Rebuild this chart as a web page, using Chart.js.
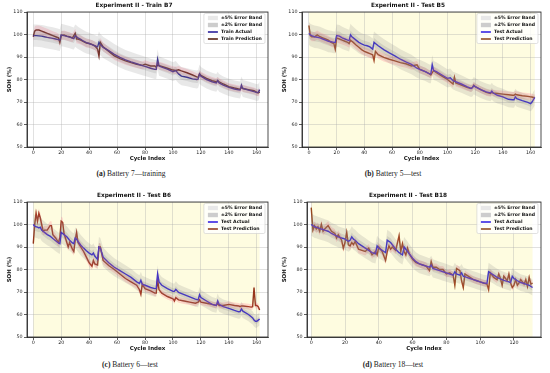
<!DOCTYPE html>
<html><head><meta charset="utf-8">
<script src="https://cdn.jsdelivr.net/npm/chart.js@4.4.0/dist/chart.umd.min.js"></script>
<style>
body{margin:0;background:#fff;width:550px;height:373px;overflow:hidden;position:relative;}
canvas{position:absolute;}
.cap{position:absolute;font-family:"Liberation Serif","DejaVu Serif",serif;font-size:7.5px;color:#222;white-space:nowrap;transform:translateX(-50%);line-height:10px;}
</style></head><body>
<canvas id="ca" width="275" height="165" style="left:0;top:0"></canvas>
<canvas id="cb" width="275" height="165" style="left:275px;top:0"></canvas>
<canvas id="cc" width="275" height="165" style="left:0;top:190px"></canvas>
<canvas id="cd" width="275" height="165" style="left:275px;top:190px"></canvas>
<div class="cap" style="left:131px;top:169px"><b>(a)</b> Battery 7—training</div>
<div class="cap" style="left:393px;top:169px"><b>(b)</b> Battery 5—test</div>
<div class="cap" style="left:130px;top:360px"><b>(c)</b> Battery 6—test</div>
<div class="cap" style="left:393px;top:360px"><b>(d)</b> Battery 18—test</div>
<script>
// ---- data ----
const titles = ["Experiment II - Train B7","Experiment II - Test B5","Experiment II - Test B6","Experiment II - Test B18"];
const yTicks = [50,60,70,80,90,100,110];
const xTicksABC = [0,20,40,60,80,100,120,140,160];
const xTicksD = [0,20,40,60,80,100,120];

const cyclesA = [0,1,2,4,6,8,10,12,14,16,18,19,20,22,24,26,28,29,30,31,32,34,36,38,40,42,44,46,47,48,50,54,58,62,66,70,74,78,80,84,87,88,89,90,92,96,100,102,104,106,110,114,117,118,119,120,124,128,131,132,133,136,140,144,147,148,149,150,154,158,160,161,162];
const actualA = [99.5,99.5,99.5,99.4,99.3,99,98.7,98.5,98.3,98,97.7,97.5,99.8,99.5,99.2,98.8,98.4,98.2,99.5,99,98.5,97.8,97,96.4,96,95.5,95,94.5,96.5,95.5,94.3,92.8,91.2,89.8,88.7,87.8,87,86.2,85.8,85,84.5,84.5,89,86,85.5,84.6,83.5,84,82.5,81.5,81,80.3,80,80.2,82.5,81.5,80,79,78.5,79.5,78.5,77.5,76.5,75.8,75.4,75.3,77.5,76,75.3,74.6,74.2,74.3,75.5];
const predA = [99,101.5,102,102,101.5,101,100.5,100,99.5,99,98.5,96.5,99.5,99.8,99.3,99,98.5,99.5,100.5,98,98,97.5,96.8,96.2,96,95.6,95,93.5,90.5,96.5,94.5,92.5,90.5,89.3,88.3,87.5,86.8,86.3,86.8,86,86,85.5,86.5,86.2,85.8,85,84.2,84,84.3,83.8,83,82,81.2,81,82.5,81.8,80.5,79.5,79,79.5,79,78,76.8,76.2,75.8,75.7,76.5,76,75.5,75,74.3,74,74.5];

const cyclesB = [0,1,2,4,6,8,10,12,14,16,18,19,20,22,24,26,28,29,30,31,32,34,36,38,40,42,44,46,47,48,50,54,58,62,66,70,74,78,80,84,87,88,89,90,92,96,100,102,104,105,106,110,114,117,118,119,120,124,128,131,132,133,136,140,144,147,148,149,150,154,158,160,161,162,163];
const actualB = [100.5,99.8,99.5,99,98.8,98.5,98,97.5,97,96.8,96.5,96.5,99.5,99.3,98.5,98,97.5,97.3,99.8,99,98.5,97.5,96.5,95.8,95.3,95,94.5,93.5,96.5,96,95,93.3,91.8,90.5,89,87.8,86.7,85,84.5,83.5,82.5,82.5,86.5,84,83.5,82,80.5,80.8,79.5,79.3,79,78,76.8,76,76.3,77.3,76.8,75.5,74.5,74,74.8,74,73,72.3,71.2,71,71,72.3,71.5,70.6,69.8,69.3,70,71,72];
const predB = [104,99.5,99,99,99.8,99,98.5,98,97.5,96.5,96,93.5,98.5,98,97.5,97,96.5,96,97.5,97,96.5,95.3,94.3,93.3,92.5,92,91.5,91,88.5,92.5,91,89.8,89,88.3,87.5,87,86,86.5,84.5,83.5,82.5,82,83,84,83,81.5,80,79,78,81,78.5,77.5,76.5,76,76.5,77.5,76.8,75.5,74.3,73.8,74.3,74,73.8,73.5,73.2,73,73,73.5,73.2,72.8,72.5,72.3,72.2,72,72];

const cyclesC = [0,1,2,3,4,5,6,7,8,10,12,13,14,16,18,19,20,21,22,24,25,26,28,29,30,31,32,34,36,38,40,42,43,44,46,47,48,50,54,58,62,66,70,74,76,77,78,80,84,87,88,89,90,92,96,100,101,102,104,108,112,116,118,119,120,124,128,131,132,133,136,140,144,147,148,149,150,154,156,157,158,159,160,161,162];
const actualC = [100,99.3,99,98.8,98.5,98.8,97.5,97,96.5,95.5,94.8,94.3,93.8,92.8,91.8,91.5,96.5,96,95.5,94.5,93.8,93,91.8,91.5,94,93.5,92.5,90.8,89.5,88.3,87.3,86.5,87.3,86,84.5,90,89.5,85.5,83,81,79.5,78,76.5,74.5,73.8,75.2,73.5,73,72,71.5,71.5,78,74.5,73,71.5,70.3,70.3,71.2,69.8,68.8,67.8,66.8,66.5,68.8,67.5,66,64.5,64,66,64.5,63.5,62.7,61.8,61.2,61.3,62.5,61.5,60,59,58.5,57.5,57,57,57.5,58];
const predC = [91.5,100,105,101.5,105,103,100,97,97.5,97.5,99.5,99.5,95.5,94,92,94,101.5,101,96,92,90,92,89,88,93,96.5,92,90,88,85.5,83,81.5,84,82.5,82,90,90,84,81.8,80,78,76,74.5,73,71,69,73.5,71.5,70.5,69.5,69.5,75.5,71,69.5,68,67,66,67.5,66.5,66,65.5,65,65.5,66.5,65.5,65,64.5,64,65,64,64,64.5,64,63.8,63.5,63.8,63.8,63.5,63.3,63.5,72,64,64,63.5,62];

const cyclesD = [0,1,2,3,4,5,6,7,8,10,12,14,15,16,18,19,20,21,22,23,24,25,26,28,30,32,34,36,38,39,40,42,43,44,45,46,47,48,50,52,53,54,55,56,57,58,60,62,64,66,68,70,71,72,74,76,78,80,82,84,85,86,88,89,90,91,92,94,96,98,100,102,104,105,106,108,110,111,112,113,114,116,117,118,119,120,121,122,123,124,126,127,128,129,130,131];
const actualD = [100,99.5,99,98.8,98.5,98.3,98,97.8,97.5,97,96,95.3,95,94.5,94,93.8,93.5,93,92.5,93,94.5,93.5,93,91.5,90.5,89.5,88.5,87.5,87,90.5,89.5,88.5,88,87.5,93,92.5,92,91,89,87.5,87,86.5,90,89,88,87,85,83.5,82.5,82,81.5,81,82,80.5,80,79.5,79,78.5,78,77.5,79,78,77.5,78.5,77,76.8,76.5,76,75.5,75,74.5,74,73.8,79,78.5,77.5,76.5,76.2,75.8,75.5,75.2,74.7,74.5,74.2,77,76,75.5,75,74.6,74.2,73.8,73.5,73.3,73,72.5,72];
const predD = [107.5,97.5,99.5,98,99,97,100,97,98,99.5,97,96,94,95.5,93,89.5,92,96.5,91,90.5,92,91,92.5,89,88.5,88,89.5,86.5,88,86.5,90,88,86,84,88,90.5,89,90,88.5,95,88,91.5,88,86.5,89.5,87,84.5,83,82.5,82,81.5,79.5,83.5,81,81,80,80,78,78.5,77.5,73,80.5,79.5,75,72,78,77.5,76.5,75.5,75,74.5,74,73.5,71,78.5,76.5,75.5,78,76,73,77,75,78,74,72,73,75.5,73,74,75.5,73.5,75.5,72.5,76.5,73.5,74];

// ---- plugins ----
const FONT = '"DejaVu Sans", sans-serif';
const bgPlugin = {
  id: 'bgSpan',
  beforeDraw(chart, args, o) {
    if (!o || !o.color) return;
    const {ctx, chartArea, scales} = chart;
    const x0 = scales.x.getPixelForValue(o.from), x1 = scales.x.getPixelForValue(o.to);
    ctx.save(); ctx.fillStyle = o.color;
    ctx.fillRect(x0, chartArea.top, x1 - x0, chartArea.bottom - chartArea.top);
    ctx.restore();
  }
};
const framePlugin = {
  id: 'frame',
  afterDatasetsDraw(chart) {
    const {ctx, chartArea: a} = chart;
    ctx.save(); ctx.strokeStyle = '#222'; ctx.lineWidth = 0.8;
    ctx.strokeRect(a.left, a.top, a.right - a.left, a.bottom - a.top);
    ctx.restore();
  }
};
const legendPlugin = {
  id: 'boxLegend',
  afterDraw(chart, args, o) {
    const items = o.items; if (!items) return;
    const {ctx, chartArea} = chart;
    ctx.save();
    ctx.font = 'bold 4.6px ' + FONT;
    const tw = Math.max(...items.map(i => ctx.measureText(i.label).width));
    const rowH = 7, padX = 4, handle = 10, gap = 3;
    const w = padX + handle + gap + tw + 3;
    const h = items.length * rowH + 2;
    const x = chartArea.right - 3 - w, y = chartArea.top + 1.5;
    ctx.fillStyle = 'rgba(255,255,255,0.8)'; ctx.strokeStyle = '#cccccc'; ctx.lineWidth = 0.6;
    ctx.beginPath(); ctx.roundRect(x, y, w, h, 1.5); ctx.fill(); ctx.stroke();
    items.forEach((it, i) => {
      const cy = y + 1 + rowH * i + rowH / 2;
      if (it.type === 'patch') { ctx.fillStyle = it.color; ctx.fillRect(x + padX, cy - 2.2, handle, 4.4); }
      else { ctx.strokeStyle = it.color; ctx.lineWidth = 1.5; ctx.beginPath(); ctx.moveTo(x + padX, cy); ctx.lineTo(x + padX + handle, cy); ctx.stroke(); }
      ctx.fillStyle = '#111'; ctx.textBaseline = 'middle'; ctx.textAlign = 'left';
      ctx.fillText(it.label, x + padX + handle + gap, cy);
    });
    ctx.restore();
  }
};

function makeChart(id, p) {
  const pts = arr => p.x.map((x, i) => ({x, y: arr[i]}));
  const band = (arr, f) => p.x.map((x, i) => ({x, y: arr[i] * f}));
  const bandDs = (data, fill, color) => ({data, fill, backgroundColor: color, borderWidth: 0, pointRadius: 0, tension: 0});
  const outer = 'rgba(128,128,128,0.18)', inner = 'rgba(128,128,128,0.2)', pink = 'rgba(255,90,120,0.22)';
  new Chart(document.getElementById(id), {
    type: 'line',
    data: {datasets: [
      bandDs(band(p.actual, 1.05), '+1', outer),
      bandDs(band(p.actual, 0.95), false, outer),
      bandDs(band(p.actual, 1.02), '+1', inner),
      bandDs(band(p.actual, 0.98), false, inner),
      bandDs(band(p.pred, 1.02), '+1', pink),
      bandDs(band(p.pred, 0.98), false, pink),
      {data: pts(p.actual), borderColor: p.actColor, borderWidth: 1.4, pointRadius: 0, fill: false, tension: 0},
      {data: pts(p.pred), borderColor: p.predColor, borderWidth: 1.4, pointRadius: 0, fill: false, tension: 0}
    ]},
    options: {
      responsive: false, animation: false, devicePixelRatio: 1,
      layout: {padding: {left: 0, right: p.padR, top: 0, bottom: 0}},
      plugins: {
        legend: {display: false}, tooltip: {enabled: false},
        title: {display: true, text: p.title, color: '#111', font: {family: FONT, size: 5.8, weight: 'bold', lineHeight: 1.2}, padding: {top: 2.5, bottom: 2.54}},
        bgSpan: p.bg ? {color: p.bg, from: 0, to: p.x[p.x.length - 1]} : {},
        boxLegend: {items: [
          {label: '±5% Error Band', type: 'patch', color: '#e8e8e8'},
          {label: '±2% Error Band', type: 'patch', color: '#cdcdcd'},
          {label: p.kind + ' Actual', type: 'line', color: p.actColor},
          {label: p.kind + ' Prediction', type: 'line', color: p.predColor}
        ]}
      },
      scales: {
        x: {type: 'linear', min: p.xmin, max: p.xmax,
          afterFit: s => { s.height = 18; },
          afterBuildTicks: s => { s.ticks = p.xt.map(v => ({value: v})); },
          ticks: {font: {family: FONT, size: 4.8}, color: '#222', padding: 0, maxRotation: 0, autoSkip: false},
          grid: {color: 'rgba(170,170,170,0.45)', lineWidth: 0.8, tickLength: 3, tickColor: '#333'},
          border: {display: true, color: '#222', width: 0.8},
          title: {display: true, text: 'Cycle Index', color: '#111', font: {family: FONT, size: 5.5, weight: 'bold', lineHeight: 1.2}, padding: {top: 0, bottom: 2.7}}
        },
        y: {type: 'linear', min: 50, max: 110,
          afterFit: s => { s.width = p.yW; },
          afterBuildTicks: s => { s.ticks = yTicks.map(v => ({value: v})); },
          ticks: {font: {family: FONT, size: 4.8}, color: '#222', padding: 1.5},
          grid: {color: 'rgba(170,170,170,0.45)', lineWidth: 0.8, tickLength: 3, tickColor: '#333'},
          border: {display: true, color: '#222', width: 0.8},
          title: {display: true, text: 'SOH (%)', color: '#111', font: {family: FONT, size: 5.5, weight: 'bold', lineHeight: 1.2}, padding: {top: 6.7, bottom: 0}}
        }
      }
    },
    plugins: [bgPlugin, framePlugin, legendPlugin]
  });
}

makeChart('ca', {title: titles[0], kind: 'Train', x: cyclesA, actual: actualA, pred: predA, actColor: '#1c1296', predColor: '#4d1606', xmin: -4.5, xmax: 168, xt: xTicksABC, yW: 27, padR: 7, bg: null});
makeChart('cb', {title: titles[1], kind: 'Test', x: cyclesB, actual: actualB, pred: predB, actColor: '#2a18e0', predColor: '#8b4513', xmin: -5, xmax: 167.5, xt: xTicksABC, yW: 27, padR: 9, bg: 'rgb(254,252,224)'});
makeChart('cc', {title: titles[2], kind: 'Test', x: cyclesC, actual: actualC, pred: predC, actColor: '#2a14e0', predColor: '#8b3212', xmin: -4.5, xmax: 168, xt: xTicksABC, yW: 27, padR: 7, bg: 'rgb(254,252,224)'});
makeChart('cd', {title: titles[3], kind: 'Test', x: cyclesD, actual: actualD, pred: predD, actColor: '#2a18e0', predColor: '#8b4513', xmin: -2.5, xmax: 136, xt: xTicksD, yW: 32, padR: 9, bg: 'rgb(254,252,224)'});
</script>
</body></html>
